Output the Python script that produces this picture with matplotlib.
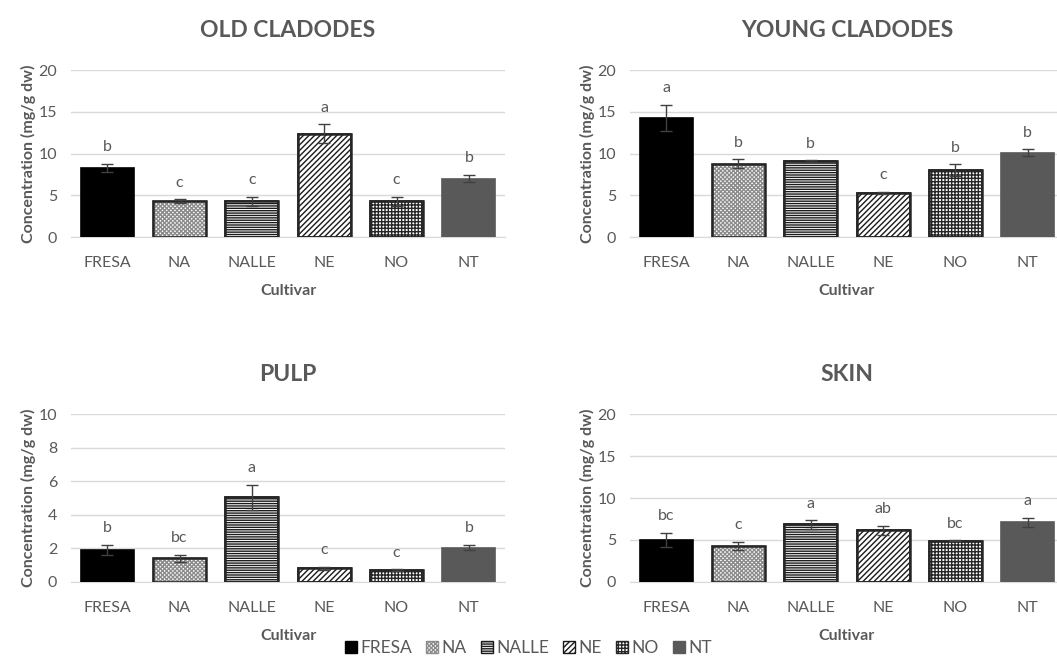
import matplotlib
matplotlib.use('Agg')
import matplotlib.pyplot as plt
import matplotlib.patches as patches
import numpy as np

plt.rcParams['font.family'] = ['Lato', 'DejaVu Sans']
plt.rcParams['hatch.linewidth'] = 1.0

cultivars = ['FRESA', 'NA', 'NALLE', 'NE', 'NO', 'NT']

old_mean = [8.3, 4.3, 4.3, 12.4, 4.3, 7.0]
old_err = [0.45, 0.2, 0.55, 1.1, 0.55, 0.45]
old_letters = ['b', 'c', 'c', 'a', 'c', 'b']

young_mean = [14.3, 8.8, 9.1, 5.3, 8.0, 10.1]
young_err = [1.55, 0.5, 0.1, 0.1, 0.7, 0.4]
young_letters = ['a', 'b', 'b', 'c', 'b', 'b']

pulp_mean = [1.93, 1.4, 5.05, 0.82, 0.7, 2.05]
pulp_err = [0.3, 0.2, 0.75, 0.08, 0.06, 0.15]
pulp_letters = ['b', 'bc', 'a', 'c', 'c', 'b']

skin_mean = [5.0, 4.3, 6.85, 6.15, 4.9, 7.1]
skin_err = [0.85, 0.45, 0.5, 0.5, 0.07, 0.55]
skin_letters = ['bc', 'c', 'a', 'ab', 'bc', 'a']

# bar styles per cultivar (face, hatch, hatch colour)
styles = {
    'FRESA': ('black', '', 'black'),
    'NA': ('white', 'xxxxxxxx', '#8c8c8c'),
    'NALLE': ('white', '-------', '#1a1a1a'),
    'NE': ('white', '//////', '#1a1a1a'),
    'NO': ('white', '+++++', '#262626'),
    'NT': ('#595959', '', '#595959'),
}

GRAY = '#595959'
GRID = '#d9d9d9'

fig = plt.figure(figsize=(10.57, 6.64), dpi=100)

panels = [
    ('OLD CLADODES', old_mean, old_err, old_letters, 20, 5, [0.0672, 0.643, 0.4106, 0.2515]),
    ('YOUNG CLADODES', young_mean, young_err, young_letters, 20, 5, [0.596, 0.643, 0.4106, 0.2515]),
    ('PULP', pulp_mean, pulp_err, pulp_letters, 10, 2, [0.0672, 0.1235, 0.4106, 0.253]),
    ('SKIN', skin_mean, skin_err, skin_letters, 20, 5, [0.596, 0.1235, 0.4106, 0.253]),
]

for title, mean, err, letters, ymax, step, rect in panels:
    ax = fig.add_axes(rect)
    x = np.arange(len(cultivars))
    for i, c in enumerate(cultivars):
        face, hatch, edge = styles[c]
        ax.bar(x[i], mean[i], width=0.73, color=face, hatch=hatch,
               edgecolor=edge, linewidth=1.2, zorder=3)
        if hatch:
            # dark outline over hatch bars
            ax.bar(x[i], mean[i], width=0.73, fill=False, edgecolor='#262626',
                   linewidth=1.8, zorder=4)
    ax.errorbar(x, mean, yerr=err, fmt='none', ecolor='#404040',
                elinewidth=1, capsize=4.5, capthick=1, zorder=5)
    for i in range(len(cultivars)):
        ax.annotate(letters[i], (x[i], mean[i] + err[i]), xytext=(0, 12),
                    textcoords='offset points', ha='center', va='center',
                    fontsize=11.5, color=GRAY)
    ax.set_xlim(-0.5, 5.5)
    ax.set_ylim(0, ymax)
    ax.set_yticks(np.arange(0, ymax + 0.1, step))
    ax.yaxis.grid(True, color=GRID, linewidth=1, zorder=0)
    ax.set_axisbelow(True)
    for s in ['top', 'right', 'left']:
        ax.spines[s].set_visible(False)
    ax.spines['bottom'].set_color(GRID)
    ax.tick_params(axis='both', length=0, labelsize=11.5, colors=GRAY)
    ax.tick_params(axis='x', pad=14)
    ax.tick_params(axis='y', pad=10)
    ax.set_xticks(x)
    ax.set_xticklabels(cultivars)
    ax.set_xlabel('Cultivar', fontsize=11.5, fontweight='bold', color=GRAY, labelpad=10)
    ax.set_ylabel('Concentration (mg/g dw)', fontsize=11.5, fontweight='bold',
                  color=GRAY, labelpad=2)
    ax.set_title(title, fontsize=16.5, fontweight='bold', color=GRAY, pad=24)

handles = []
for c in cultivars:
    face, hatch, edge = styles[c]
    handles.append(patches.Patch(facecolor=face, hatch=hatch, edgecolor=edge, label=c))
fig.legend(handles=handles, loc='lower center', bbox_to_anchor=(0.5, -0.012), ncol=6,
           frameon=False, fontsize=12.5, handlelength=0.7, handleheight=0.7,
           handletextpad=0.2, columnspacing=0.8, labelcolor=GRAY)

fig.savefig('out.png', dpi=100)
